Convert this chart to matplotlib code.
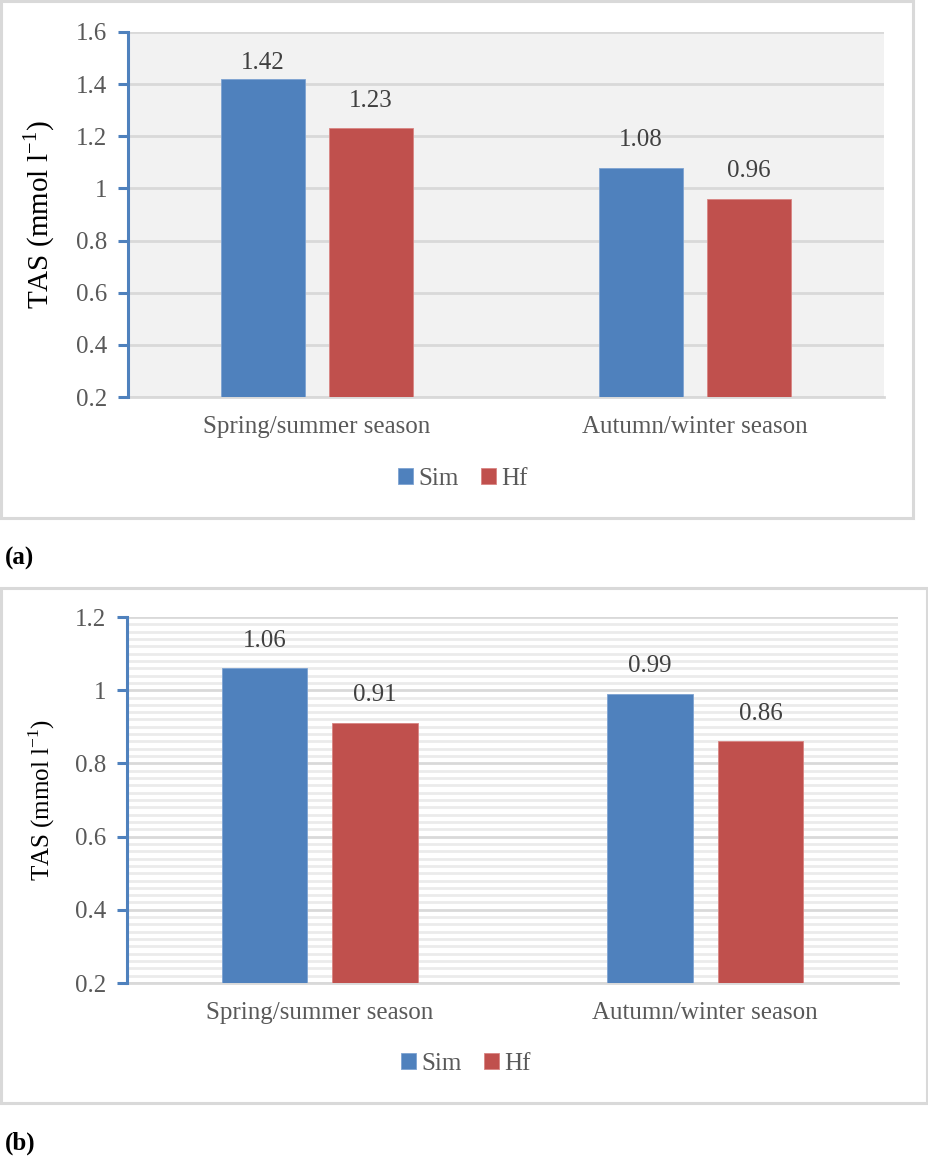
import matplotlib
matplotlib.use("Agg")
import matplotlib.pyplot as plt
from matplotlib.patches import Rectangle
from matplotlib.ticker import MultipleLocator
import numpy as np

categories = ["Spring/summer season", "Autumn/winter season"]
series = ["Sim", "Hf"]
sim_a = [1.42, 1.08]
hf_a = [1.23, 0.96]
sim_b = [1.06, 0.99]
hf_b = [0.91, 0.86]

W, H = 929, 1157
BLUE = "#4f81bd"
RED = "#c0504d"
GRID = "#d9d9d9"
TXT = "#595959"

plt.rcParams["font.family"] = ["Liberation Serif", "DejaVu Serif"]
plt.rcParams["mathtext.fontset"] = "custom"
plt.rcParams["mathtext.rm"] = "Liberation Serif"

fig = plt.figure(figsize=(W / 100, H / 100), dpi=100)


def rect(x0, y0, x1, y1):
    # pixel box (top-left origin) -> figure fraction
    return [x0 / W, 1 - y1 / H, (x1 - x0) / W, (y1 - y0) / H]


def box(x0, y0, x1, y1):
    fig.patches.append(Rectangle((x0 / W, 1 - y1 / H), (x1 - x0) / W, (y1 - y0) / H,
                                 transform=fig.transFigure, fill=False,
                                 edgecolor=GRID, linewidth=2.2))


def panel(ax, sim, hf, ymax, minor, label_x, ylab_size, pads):
    x = np.arange(len(categories))
    w = 0.222
    off = 0.143
    b1 = ax.bar(x - off, np.array(sim) - 0.2, w, bottom=0.2, color=BLUE,
                edgecolor="#7ea3d2", linewidth=0.6, zorder=3, label=series[0])
    b2 = ax.bar(x + off, np.array(hf) - 0.2, w, bottom=0.2, color=RED,
                edgecolor="#d88583", linewidth=0.6, zorder=3, label=series[1])
    for bars, vals, pp in ((b1, sim, pads[0]), (b2, hf, pads[1])):
        for r, v, p in zip(bars, vals, pp):
            ax.annotate(f"{v:g}", (r.get_x() + r.get_width() / 2, v),
                        xytext=(0, p), textcoords="offset points",
                        ha="center", va="bottom", fontsize=18, color="#404040")
    ax.set_xlim(-0.5, 1.5)
    ax.set_ylim(0.2, ymax)
    ticks = np.round(np.arange(0.2, ymax + 0.01, 0.2), 1)
    ax.set_yticks(ticks)
    ax.set_yticklabels([f"{t:g}" for t in ticks])
    if minor:
        ax.yaxis.set_minor_locator(MultipleLocator(0.02))
        ax.grid(axis="y", which="minor", color="#ebebeb", linewidth=2.0, zorder=0)
        ax.tick_params(axis="y", which="minor", length=0)
    ax.grid(axis="y", which="major", color=GRID, linewidth=2.0, zorder=1)
    ax.set_axisbelow(True)
    ax.set_xticks(x)
    ax.set_xticklabels(categories)
    ax.tick_params(axis="x", length=0, pad=14, labelsize=18, labelcolor=TXT)
    ax.tick_params(axis="y", which="major", length=7, width=2.2, color=BLUE,
                   pad=8, labelsize=18, labelcolor=TXT)
    for s in ("top", "right"):
        ax.spines[s].set_visible(False)
    ax.spines["bottom"].set_color(GRID)
    ax.spines["bottom"].set_linewidth(2.0)
    ax.spines["left"].set_color(BLUE)
    ax.spines["left"].set_linewidth(2.2)
    ax.spines["left"].set_zorder(5)
    ax.set_ylabel("TAS (mmol l$^{\\mathregular{-1}}$)", fontsize=ylab_size, color="black")
    ax.yaxis.set_label_coords(label_x, 0.5)


box(1, 1, 913, 518)
box(1, 588, 927, 1103)

ax1 = fig.add_axes(rect(128, 32, 884, 397))
ax1.set_facecolor("#f2f2f2")
panel(ax1, sim_a, hf_a, 1.6, False, -0.094, 21, [[3.5, 12], [12, 12]])
fig.legend(*ax1.get_legend_handles_labels(), loc="center",
           bbox_to_anchor=(463 / W, 1 - 479 / H), ncol=2, frameon=False,
           fontsize=18, handlelength=0.6, handleheight=0.6, handletextpad=0.2,
           columnspacing=0.9, labelcolor=TXT)

ax2 = fig.add_axes(rect(127, 617, 898, 983))
ax2.set_facecolor("white")
panel(ax2, sim_b, hf_b, 1.2, True, -0.091, 18, [[12, 12], [12, 12]])
fig.legend(*ax2.get_legend_handles_labels(), loc="center",
           bbox_to_anchor=(466 / W, 1 - 1064 / H), ncol=2, frameon=False,
           fontsize=18, handlelength=0.6, handleheight=0.6, handletextpad=0.2,
           columnspacing=0.9, labelcolor=TXT)

fig.text(5 / W, 1 - 558 / H, "(a)", fontsize=18, fontweight="bold", va="center", ha="left")
fig.text(5 / W, 1 - 1143 / H, "(b)", fontsize=18, fontweight="bold", va="center", ha="left")

fig.savefig("out.png", dpi=100, facecolor="white")
